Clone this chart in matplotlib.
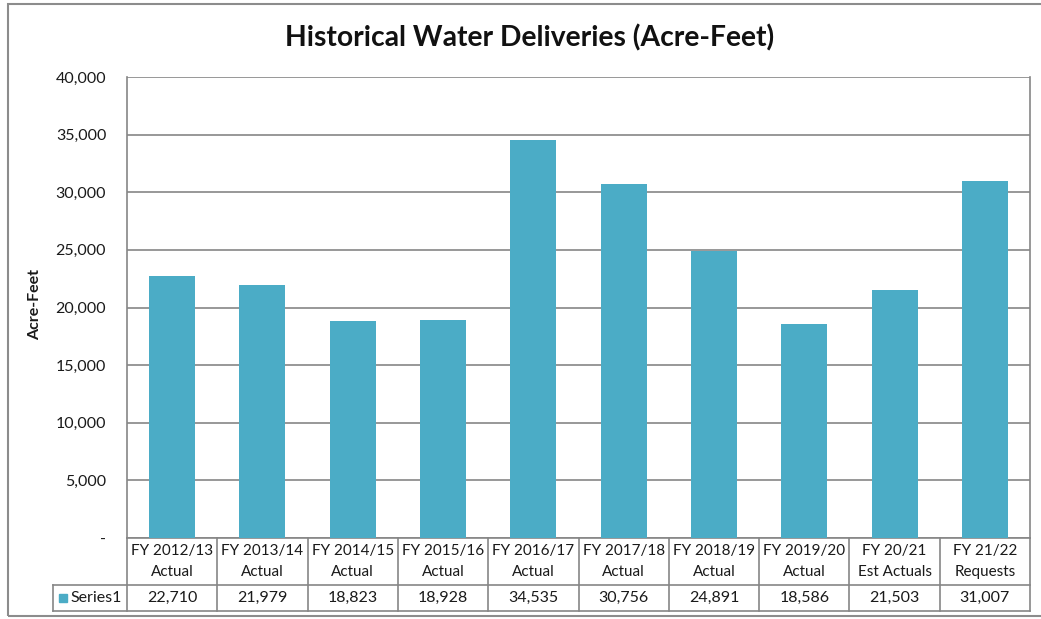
import matplotlib
matplotlib.use("Agg")
import matplotlib.pyplot as plt
from matplotlib.patches import Rectangle
from matplotlib.ticker import FuncFormatter
import matplotlib.transforms as mtransforms

categories = ["FY 2012/13\nActual", "FY 2013/14\nActual", "FY 2014/15\nActual",
              "FY 2015/16\nActual", "FY 2016/17\nActual", "FY 2017/18\nActual",
              "FY 2018/19\nActual", "FY 2019/20\nActual", "FY 20/21\nEst Actuals",
              "FY 21/22\nRequests"]
values = [22710, 21979, 18823, 18928, 34535, 30756, 24891, 18586, 21503, 31007]
series_name = "Series1"
title = "Historical Water Deliveries (Acre-Feet)"
ylabel = "Acre-Feet"
yticks = [0, 5000, 10000, 15000, 20000, 25000, 30000, 35000, 40000]

plt.rcParams['font.family'] = ['Lato', 'DejaVu Sans']
BAR = "#4BACC6"
GRID = "#868686"
TXT = "#1a1a1a"
W, H = 1041, 619

fig = plt.figure(figsize=(W / 100, H / 100), dpi=100)
fig.patch.set_facecolor("white")

# outer chart border
fig.patches.append(Rectangle((8 / W, 1 - 616 / H), 1.2, (616 - 4) / H,
                             transform=fig.transFigure, fill=False,
                             edgecolor="#8c8c8c", linewidth=1.5))

left, right, top, bottom = 127, 1030, 77, 538
ax = fig.add_axes([left / W, 1 - bottom / H, (right - left) / W, (bottom - top) / H])
x = list(range(len(values)))
ax.bar(x, values, width=0.51, color=BAR, zorder=3)
ax.set_xlim(-0.5, len(values) - 0.5)
ax.set_ylim(0, 40000)
ax.set_yticks(yticks)
ax.yaxis.set_major_formatter(FuncFormatter(lambda v, p: "-" if v == 0 else f"{int(v):,}"))
ax.tick_params(axis="y", length=0, pad=15, labelsize=11.5, labelcolor=TXT)
ax.set_xticks([])
ax.grid(axis="y", color=GRID, linewidth=1.2, zorder=0)
for s in ["top", "bottom"]:
    ax.spines[s].set_visible(False)
for s in ["left", "right"]:
    ax.spines[s].set_color(GRID)
    ax.spines[s].set_linewidth(1.2)
ax.set_ylabel(ylabel, fontsize=11.5, fontweight="bold", color=TXT)
ax.yaxis.set_label_coords((42 - left) / (right - left), (bottom - 305) / (bottom - top))

fig.text(530 / W, 1 - 38 / H, title, ha="center", va="center",
         fontsize=20.3, fontweight="bold", color="#111111")

# data table below the plot
trans = mtransforms.blended_transform_factory(ax.transData, ax.transAxes)
ph = bottom - top
y_top = 0.0
y_mid = -(585 - bottom) / ph
y_bot = -(611 - bottom) / ph
x_leg = -0.5 - (left - 53) / ((right - left) / len(values))
lkw = dict(color=GRID, linewidth=1.2, transform=trans, clip_on=False)
ax.plot([-0.5, len(values) - 0.5], [y_top, y_top], **lkw)
ax.plot([x_leg, len(values) - 0.5], [y_mid, y_mid], **lkw)
ax.plot([x_leg, len(values) - 0.5], [y_bot, y_bot], **lkw)
ax.plot([x_leg, x_leg], [y_mid, y_bot], **lkw)
for i in range(len(values) + 1):
    ax.plot([i - 0.5, i - 0.5], [y_top, y_bot], **lkw)
for i, (c, v) in enumerate(zip(categories, values)):
    ax.text(i, (y_top + y_mid) / 2, c, ha="center", va="center", fontsize=11,
            transform=trans, linespacing=1.6, color=TXT)
    ax.text(i, (y_mid + y_bot) / 2, f"{v:,}", ha="center", va="center",
            fontsize=11.5, transform=trans, color=TXT)
ax.add_patch(Rectangle((x_leg + 0.07, (y_mid + y_bot) / 2 - 0.0095), 0.09, 0.019,
                       transform=trans, color=BAR, clip_on=False))
ax.text(x_leg + 0.19, (y_mid + y_bot) / 2, series_name, ha="left", va="center",
        fontsize=11.5, transform=trans, color=TXT)

fig.savefig("out.png", dpi=100, facecolor="white")
